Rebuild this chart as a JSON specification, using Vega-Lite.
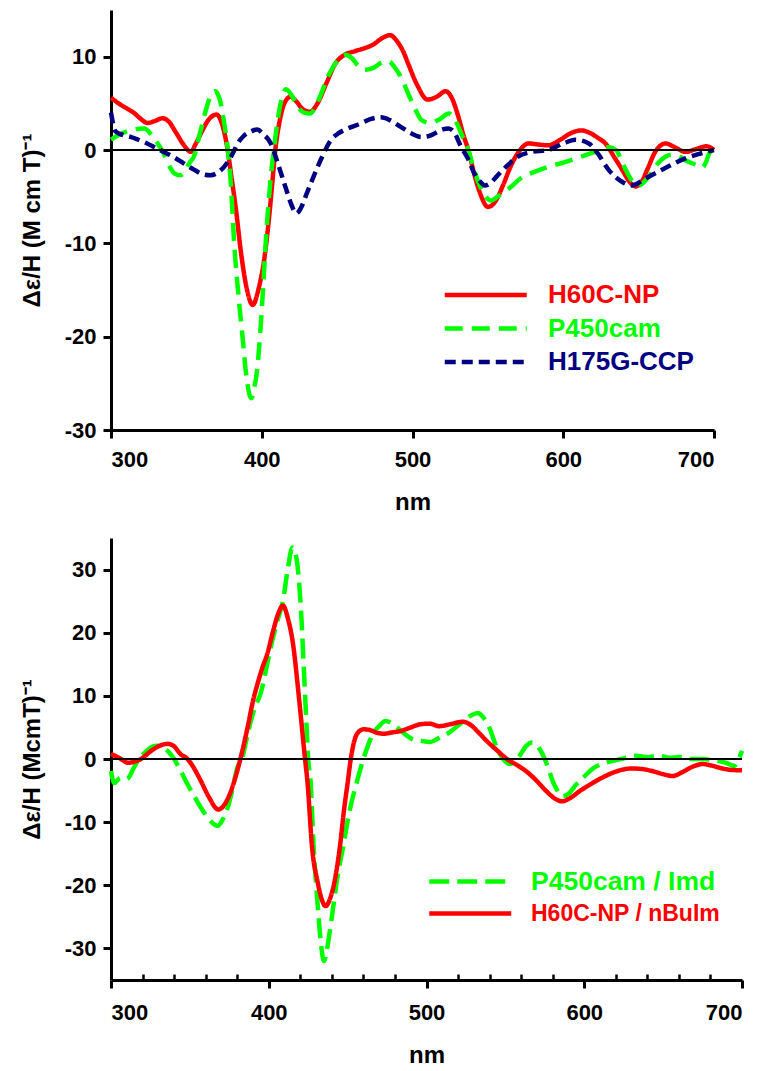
{
  "$schema": "https://vega.github.io/schema/vega-lite/v6.json",
  "background": "white",
  "padding": {"left": 20, "top": 10, "right": 5, "bottom": 5},
  "spacing": 24,
  "resolve": {"scale": {"color": "independent", "strokeDash": "independent"}, "legend": {"color": "independent", "strokeDash": "independent"}},
  "config": {
    "view": {"stroke": null},
    "font": "Liberation Sans",
    "axis": {
      "grid": false,
      "domainColor": "black",
      "domainWidth": 3,
      "tickColor": "black",
      "tickWidth": 3,
      "tickSize": 8,
      "labelFont": "Liberation Sans",
      "labelFontWeight": "bold",
      "labelFontSize": 22,
      "labelColor": "black",
      "titleFont": "Liberation Sans",
      "titleFontWeight": "bold",
      "titleColor": "black"
    },
    "legend": {
      "orient": "none",
      "title": null,
      "labelFont": "Liberation Sans",
      "labelFontWeight": "bold",
      "labelLimit": 400,
      "symbolType": "M-1,0H7",
      "symbolSize": 420,
      "symbolStrokeWidth": 4.5
    }
  },
  "datasets": {
    "top": [
      {"s":"H60C-NP","nm":300,"v":5.6},{"s":"H60C-NP","nm":305,"v":5.0},{"s":"H60C-NP","nm":310,"v":4.5},{"s":"H60C-NP","nm":315,"v":4.0},{"s":"H60C-NP","nm":320,"v":3.3},{"s":"H60C-NP","nm":324,"v":2.9},{"s":"H60C-NP","nm":329,"v":3.1},{"s":"H60C-NP","nm":334,"v":3.4},{"s":"H60C-NP","nm":338,"v":3.1},{"s":"H60C-NP","nm":343,"v":1.9},{"s":"H60C-NP","nm":348,"v":0.6},{"s":"H60C-NP","nm":353,"v":-0.2},{"s":"H60C-NP","nm":356,"v":0.6},{"s":"H60C-NP","nm":360,"v":1.9},{"s":"H60C-NP","nm":365,"v":3.3},{"s":"H60C-NP","nm":370,"v":3.8},{"s":"H60C-NP","nm":374,"v":2.6},{"s":"H60C-NP","nm":377,"v":0.4},{"s":"H60C-NP","nm":380,"v":-3.0},{"s":"H60C-NP","nm":383,"v":-6.5},{"s":"H60C-NP","nm":386,"v":-10.7},{"s":"H60C-NP","nm":390,"v":-14.8},{"s":"H60C-NP","nm":394,"v":-16.6},{"s":"H60C-NP","nm":398,"v":-14.8},{"s":"H60C-NP","nm":402,"v":-11.3},{"s":"H60C-NP","nm":405,"v":-7.0},{"s":"H60C-NP","nm":407,"v":-3.5},{"s":"H60C-NP","nm":409,"v":0.0},{"s":"H60C-NP","nm":412,"v":3.2},{"s":"H60C-NP","nm":415,"v":5.0},{"s":"H60C-NP","nm":419,"v":5.7},{"s":"H60C-NP","nm":423,"v":5.2},{"s":"H60C-NP","nm":427,"v":4.4},{"s":"H60C-NP","nm":432,"v":4.1},{"s":"H60C-NP","nm":437,"v":5.0},{"s":"H60C-NP","nm":443,"v":7.2},{"s":"H60C-NP","nm":449,"v":9.3},{"s":"H60C-NP","nm":455,"v":10.2},{"s":"H60C-NP","nm":462,"v":10.6},{"s":"H60C-NP","nm":468,"v":10.9},{"s":"H60C-NP","nm":474,"v":11.3},{"s":"H60C-NP","nm":480,"v":12.0},{"s":"H60C-NP","nm":485,"v":12.3},{"s":"H60C-NP","nm":490,"v":11.6},{"s":"H60C-NP","nm":494,"v":10.5},{"s":"H60C-NP","nm":497,"v":9.3},{"s":"H60C-NP","nm":503,"v":7.0},{"s":"H60C-NP","nm":510,"v":5.4},{"s":"H60C-NP","nm":516,"v":5.7},{"s":"H60C-NP","nm":522,"v":6.3},{"s":"H60C-NP","nm":526,"v":5.6},{"s":"H60C-NP","nm":530,"v":3.8},{"s":"H60C-NP","nm":534,"v":1.5},{"s":"H60C-NP","nm":537,"v":0.0},{"s":"H60C-NP","nm":541,"v":-2.6},{"s":"H60C-NP","nm":545,"v":-4.7},{"s":"H60C-NP","nm":550,"v":-6.1},{"s":"H60C-NP","nm":555,"v":-5.5},{"s":"H60C-NP","nm":560,"v":-3.8},{"s":"H60C-NP","nm":565,"v":-1.8},{"s":"H60C-NP","nm":570,"v":-0.3},{"s":"H60C-NP","nm":577,"v":0.7},{"s":"H60C-NP","nm":583,"v":0.6},{"s":"H60C-NP","nm":590,"v":0.5},{"s":"H60C-NP","nm":598,"v":1.1},{"s":"H60C-NP","nm":605,"v":1.8},{"s":"H60C-NP","nm":612,"v":2.1},{"s":"H60C-NP","nm":618,"v":1.8},{"s":"H60C-NP","nm":623,"v":1.3},{"s":"H60C-NP","nm":628,"v":0.7},{"s":"H60C-NP","nm":634,"v":-0.8},{"s":"H60C-NP","nm":639,"v":-2.1},{"s":"H60C-NP","nm":644,"v":-3.4},{"s":"H60C-NP","nm":648,"v":-3.9},{"s":"H60C-NP","nm":652,"v":-3.4},{"s":"H60C-NP","nm":656,"v":-2.0},{"s":"H60C-NP","nm":661,"v":-0.2},{"s":"H60C-NP","nm":668,"v":0.7},{"s":"H60C-NP","nm":674,"v":0.3},{"s":"H60C-NP","nm":681,"v":-0.2},{"s":"H60C-NP","nm":688,"v":0.1},{"s":"H60C-NP","nm":695,"v":0.4},{"s":"H60C-NP","nm":700,"v":0.0},
      {"s":"P450cam","nm":300,"v":1.1},{"s":"P450cam","nm":305,"v":1.6},{"s":"P450cam","nm":313,"v":2.1},{"s":"P450cam","nm":322,"v":2.3},{"s":"P450cam","nm":327,"v":1.6},{"s":"P450cam","nm":331,"v":0.7},{"s":"P450cam","nm":335,"v":-0.4},{"s":"P450cam","nm":339,"v":-1.8},{"s":"P450cam","nm":342,"v":-2.5},{"s":"P450cam","nm":346,"v":-2.7},{"s":"P450cam","nm":349,"v":-2.3},{"s":"P450cam","nm":352,"v":-1.4},{"s":"P450cam","nm":355,"v":-0.7},{"s":"P450cam","nm":359,"v":1.8},{"s":"P450cam","nm":363,"v":4.3},{"s":"P450cam","nm":366,"v":5.8},{"s":"P450cam","nm":369,"v":6.3},{"s":"P450cam","nm":372,"v":5.5},{"s":"P450cam","nm":375,"v":3.0},{"s":"P450cam","nm":377,"v":0.7},{"s":"P450cam","nm":379,"v":-2.5},{"s":"P450cam","nm":382,"v":-10.7},{"s":"P450cam","nm":384.5,"v":-15.5},{"s":"P450cam","nm":387,"v":-19.6},{"s":"P450cam","nm":390,"v":-24.5},{"s":"P450cam","nm":393,"v":-26.6},{"s":"P450cam","nm":395,"v":-25.5},{"s":"P450cam","nm":397,"v":-23.5},{"s":"P450cam","nm":399,"v":-19.6},{"s":"P450cam","nm":401,"v":-14.5},{"s":"P450cam","nm":403,"v":-9.0},{"s":"P450cam","nm":406,"v":-2.9},{"s":"P450cam","nm":408,"v":0.0},{"s":"P450cam","nm":412,"v":4.6},{"s":"P450cam","nm":416,"v":6.5},{"s":"P450cam","nm":420,"v":5.8},{"s":"P450cam","nm":424,"v":4.6},{"s":"P450cam","nm":428,"v":4.0},{"s":"P450cam","nm":432,"v":3.9},{"s":"P450cam","nm":438,"v":5.5},{"s":"P450cam","nm":444,"v":7.9},{"s":"P450cam","nm":450,"v":9.5},{"s":"P450cam","nm":455,"v":10.2},{"s":"P450cam","nm":460,"v":9.8},{"s":"P450cam","nm":464,"v":9.0},{"s":"P450cam","nm":468,"v":8.6},{"s":"P450cam","nm":474,"v":8.8},{"s":"P450cam","nm":480,"v":9.4},{"s":"P450cam","nm":484,"v":9.5},{"s":"P450cam","nm":488,"v":8.9},{"s":"P450cam","nm":493,"v":7.6},{"s":"P450cam","nm":497,"v":6.1},{"s":"P450cam","nm":502,"v":4.3},{"s":"P450cam","nm":506,"v":3.2},{"s":"P450cam","nm":512,"v":2.9},{"s":"P450cam","nm":518,"v":3.3},{"s":"P450cam","nm":524,"v":3.9},{"s":"P450cam","nm":529,"v":3.0},{"s":"P450cam","nm":533,"v":1.5},{"s":"P450cam","nm":537,"v":0.0},{"s":"P450cam","nm":541,"v":-2.2},{"s":"P450cam","nm":546,"v":-4.3},{"s":"P450cam","nm":552,"v":-5.4},{"s":"P450cam","nm":558,"v":-4.8},{"s":"P450cam","nm":565,"v":-4.0},{"s":"P450cam","nm":572,"v":-3.0},{"s":"P450cam","nm":580,"v":-2.4},{"s":"P450cam","nm":590,"v":-1.8},{"s":"P450cam","nm":601,"v":-1.3},{"s":"P450cam","nm":612,"v":-0.7},{"s":"P450cam","nm":623,"v":-0.1},{"s":"P450cam","nm":630,"v":0.3},{"s":"P450cam","nm":635,"v":0.0},{"s":"P450cam","nm":639,"v":-1.3},{"s":"P450cam","nm":643,"v":-2.6},{"s":"P450cam","nm":646,"v":-3.4},{"s":"P450cam","nm":650,"v":-3.8},{"s":"P450cam","nm":656,"v":-3.0},{"s":"P450cam","nm":663,"v":-1.4},{"s":"P450cam","nm":668,"v":-0.7},{"s":"P450cam","nm":672,"v":-0.5},{"s":"P450cam","nm":677,"v":-0.7},{"s":"P450cam","nm":681,"v":-1.1},{"s":"P450cam","nm":688,"v":-1.6},{"s":"P450cam","nm":692,"v":-1.9},{"s":"P450cam","nm":695,"v":-1.2},{"s":"P450cam","nm":697,"v":-0.3},{"s":"P450cam","nm":700,"v":0.0},
      {"s":"H175G-CCP","nm":300,"v":4.0},{"s":"H175G-CCP","nm":303,"v":2.0},{"s":"H175G-CCP","nm":308,"v":1.6},{"s":"H175G-CCP","nm":313,"v":1.4},{"s":"H175G-CCP","nm":318,"v":1.1},{"s":"H175G-CCP","nm":324,"v":0.7},{"s":"H175G-CCP","nm":330,"v":0.2},{"s":"H175G-CCP","nm":335,"v":-0.2},{"s":"H175G-CCP","nm":341,"v":-0.7},{"s":"H175G-CCP","nm":348,"v":-1.4},{"s":"H175G-CCP","nm":355,"v":-2.1},{"s":"H175G-CCP","nm":361,"v":-2.6},{"s":"H175G-CCP","nm":366,"v":-2.7},{"s":"H175G-CCP","nm":371,"v":-2.4},{"s":"H175G-CCP","nm":377,"v":-1.4},{"s":"H175G-CCP","nm":381,"v":-0.3},{"s":"H175G-CCP","nm":384,"v":0.7},{"s":"H175G-CCP","nm":388,"v":1.5},{"s":"H175G-CCP","nm":393,"v":2.0},{"s":"H175G-CCP","nm":397,"v":2.2},{"s":"H175G-CCP","nm":401,"v":1.7},{"s":"H175G-CCP","nm":406,"v":0.7},{"s":"H175G-CCP","nm":410,"v":-1.1},{"s":"H175G-CCP","nm":413,"v":-2.6},{"s":"H175G-CCP","nm":417,"v":-4.6},{"s":"H175G-CCP","nm":420,"v":-6.0},{"s":"H175G-CCP","nm":423,"v":-6.8},{"s":"H175G-CCP","nm":426,"v":-6.2},{"s":"H175G-CCP","nm":430,"v":-4.6},{"s":"H175G-CCP","nm":435,"v":-2.6},{"s":"H175G-CCP","nm":439,"v":-1.1},{"s":"H175G-CCP","nm":446,"v":1.1},{"s":"H175G-CCP","nm":451,"v":1.8},{"s":"H175G-CCP","nm":457,"v":2.3},{"s":"H175G-CCP","nm":465,"v":2.8},{"s":"H175G-CCP","nm":472,"v":3.3},{"s":"H175G-CCP","nm":479,"v":3.5},{"s":"H175G-CCP","nm":485,"v":3.2},{"s":"H175G-CCP","nm":492,"v":2.5},{"s":"H175G-CCP","nm":499,"v":1.8},{"s":"H175G-CCP","nm":506,"v":1.4},{"s":"H175G-CCP","nm":511,"v":1.5},{"s":"H175G-CCP","nm":515,"v":1.8},{"s":"H175G-CCP","nm":520,"v":2.2},{"s":"H175G-CCP","nm":524,"v":2.3},{"s":"H175G-CCP","nm":528,"v":1.8},{"s":"H175G-CCP","nm":532,"v":0.4},{"s":"H175G-CCP","nm":537,"v":-1.0},{"s":"H175G-CCP","nm":541,"v":-2.5},{"s":"H175G-CCP","nm":545,"v":-3.4},{"s":"H175G-CCP","nm":548,"v":-3.8},{"s":"H175G-CCP","nm":552,"v":-3.5},{"s":"H175G-CCP","nm":556,"v":-2.8},{"s":"H175G-CCP","nm":562,"v":-1.8},{"s":"H175G-CCP","nm":570,"v":-0.7},{"s":"H175G-CCP","nm":579,"v":-0.2},{"s":"H175G-CCP","nm":590,"v":0.0},{"s":"H175G-CCP","nm":600,"v":0.7},{"s":"H175G-CCP","nm":608,"v":1.1},{"s":"H175G-CCP","nm":617,"v":0.7},{"s":"H175G-CCP","nm":623,"v":-0.4},{"s":"H175G-CCP","nm":630,"v":-2.1},{"s":"H175G-CCP","nm":639,"v":-3.4},{"s":"H175G-CCP","nm":645,"v":-3.8},{"s":"H175G-CCP","nm":655,"v":-3.0},{"s":"H175G-CCP","nm":668,"v":-1.9},{"s":"H175G-CCP","nm":681,"v":-0.9},{"s":"H175G-CCP","nm":695,"v":-0.2},{"s":"H175G-CCP","nm":700,"v":0.0}
    ],
    "bottom": [
      {"s":"P450cam / Imd","nm":300,"v":-1.9},{"s":"P450cam / Imd","nm":302,"v":-3.8},{"s":"P450cam / Imd","nm":306,"v":-3.0},{"s":"P450cam / Imd","nm":309,"v":-3.2},{"s":"P450cam / Imd","nm":311,"v":-3.0},{"s":"P450cam / Imd","nm":314,"v":-1.6},{"s":"P450cam / Imd","nm":317,"v":-0.3},{"s":"P450cam / Imd","nm":321,"v":0.9},{"s":"P450cam / Imd","nm":325,"v":1.8},{"s":"P450cam / Imd","nm":329,"v":2.1},{"s":"P450cam / Imd","nm":333,"v":1.8},{"s":"P450cam / Imd","nm":337,"v":1.0},{"s":"P450cam / Imd","nm":340,"v":0.0},{"s":"P450cam / Imd","nm":344,"v":-1.8},{"s":"P450cam / Imd","nm":348.5,"v":-4.0},{"s":"P450cam / Imd","nm":353,"v":-6.0},{"s":"P450cam / Imd","nm":357,"v":-7.7},{"s":"P450cam / Imd","nm":362,"v":-9.5},{"s":"P450cam / Imd","nm":367.5,"v":-10.6},{"s":"P450cam / Imd","nm":371,"v":-9.5},{"s":"P450cam / Imd","nm":374,"v":-7.7},{"s":"P450cam / Imd","nm":377,"v":-4.8},{"s":"P450cam / Imd","nm":380,"v":-1.4},{"s":"P450cam / Imd","nm":383,"v":0.0},{"s":"P450cam / Imd","nm":387,"v":4.4},{"s":"P450cam / Imd","nm":391,"v":8.0},{"s":"P450cam / Imd","nm":395,"v":10.5},{"s":"P450cam / Imd","nm":399,"v":15.0},{"s":"P450cam / Imd","nm":402,"v":18.5},{"s":"P450cam / Imd","nm":405.5,"v":21.9},{"s":"P450cam / Imd","nm":409,"v":25.0},{"s":"P450cam / Imd","nm":412,"v":30.0},{"s":"P450cam / Imd","nm":415,"v":33.5},{"s":"P450cam / Imd","nm":417,"v":32.5},{"s":"P450cam / Imd","nm":419,"v":28.7},{"s":"P450cam / Imd","nm":421,"v":21.0},{"s":"P450cam / Imd","nm":422,"v":15.6},{"s":"P450cam / Imd","nm":424,"v":5.0},{"s":"P450cam / Imd","nm":425,"v":0.0},{"s":"P450cam / Imd","nm":426.5,"v":-3.5},{"s":"P450cam / Imd","nm":428.5,"v":-14.1},{"s":"P450cam / Imd","nm":431,"v":-23.0},{"s":"P450cam / Imd","nm":433,"v":-29.0},{"s":"P450cam / Imd","nm":435,"v":-32.0},{"s":"P450cam / Imd","nm":437,"v":-30.0},{"s":"P450cam / Imd","nm":440,"v":-25.0},{"s":"P450cam / Imd","nm":444,"v":-18.0},{"s":"P450cam / Imd","nm":447,"v":-14.1},{"s":"P450cam / Imd","nm":451,"v":-8.5},{"s":"P450cam / Imd","nm":456,"v":-3.5},{"s":"P450cam / Imd","nm":460,"v":0.0},{"s":"P450cam / Imd","nm":463,"v":2.2},{"s":"P450cam / Imd","nm":466,"v":4.0},{"s":"P450cam / Imd","nm":470,"v":5.2},{"s":"P450cam / Imd","nm":474,"v":6.0},{"s":"P450cam / Imd","nm":479,"v":5.5},{"s":"P450cam / Imd","nm":485,"v":4.2},{"s":"P450cam / Imd","nm":491.5,"v":3.1},{"s":"P450cam / Imd","nm":496,"v":2.9},{"s":"P450cam / Imd","nm":502,"v":2.7},{"s":"P450cam / Imd","nm":508.5,"v":3.4},{"s":"P450cam / Imd","nm":515,"v":4.3},{"s":"P450cam / Imd","nm":521,"v":5.5},{"s":"P450cam / Imd","nm":527,"v":6.7},{"s":"P450cam / Imd","nm":532.5,"v":7.3},{"s":"P450cam / Imd","nm":536,"v":6.6},{"s":"P450cam / Imd","nm":540,"v":4.9},{"s":"P450cam / Imd","nm":543,"v":2.8},{"s":"P450cam / Imd","nm":546.5,"v":0.8},{"s":"P450cam / Imd","nm":550,"v":-0.4},{"s":"P450cam / Imd","nm":553,"v":-0.8},{"s":"P450cam / Imd","nm":556,"v":-0.3},{"s":"P450cam / Imd","nm":559,"v":0.5},{"s":"P450cam / Imd","nm":563,"v":2.0},{"s":"P450cam / Imd","nm":567,"v":2.6},{"s":"P450cam / Imd","nm":570.5,"v":2.0},{"s":"P450cam / Imd","nm":573.5,"v":0.8},{"s":"P450cam / Imd","nm":577,"v":-1.3},{"s":"P450cam / Imd","nm":580,"v":-3.5},{"s":"P450cam / Imd","nm":583,"v":-5.0},{"s":"P450cam / Imd","nm":586,"v":-5.9},{"s":"P450cam / Imd","nm":590,"v":-5.5},{"s":"P450cam / Imd","nm":595,"v":-4.0},{"s":"P450cam / Imd","nm":600,"v":-2.8},{"s":"P450cam / Imd","nm":605,"v":-1.6},{"s":"P450cam / Imd","nm":611,"v":-0.8},{"s":"P450cam / Imd","nm":618,"v":-0.3},{"s":"P450cam / Imd","nm":625,"v":0.1},{"s":"P450cam / Imd","nm":633,"v":0.5},{"s":"P450cam / Imd","nm":640,"v":0.3},{"s":"P450cam / Imd","nm":647,"v":0.5},{"s":"P450cam / Imd","nm":654,"v":0.2},{"s":"P450cam / Imd","nm":661,"v":0.3},{"s":"P450cam / Imd","nm":668,"v":0.0},{"s":"P450cam / Imd","nm":675,"v":0.0},{"s":"P450cam / Imd","nm":682,"v":-0.2},{"s":"P450cam / Imd","nm":690,"v":-0.6},{"s":"P450cam / Imd","nm":695,"v":-1.1},{"s":"P450cam / Imd","nm":698,"v":0.0},{"s":"P450cam / Imd","nm":700,"v":1.3},
      {"s":"H60C-NP / nBuIm","nm":300,"v":0.8},{"s":"H60C-NP / nBuIm","nm":305,"v":0.2},{"s":"H60C-NP / nBuIm","nm":311,"v":-0.6},{"s":"H60C-NP / nBuIm","nm":315,"v":-0.4},{"s":"H60C-NP / nBuIm","nm":319,"v":0.0},{"s":"H60C-NP / nBuIm","nm":325,"v":1.2},{"s":"H60C-NP / nBuIm","nm":330,"v":2.0},{"s":"H60C-NP / nBuIm","nm":336,"v":2.4},{"s":"H60C-NP / nBuIm","nm":340,"v":2.0},{"s":"H60C-NP / nBuIm","nm":344,"v":0.8},{"s":"H60C-NP / nBuIm","nm":348.5,"v":0.0},{"s":"H60C-NP / nBuIm","nm":352,"v":-1.2},{"s":"H60C-NP / nBuIm","nm":357,"v":-3.5},{"s":"H60C-NP / nBuIm","nm":362,"v":-6.0},{"s":"H60C-NP / nBuIm","nm":368,"v":-8.0},{"s":"H60C-NP / nBuIm","nm":372,"v":-7.2},{"s":"H60C-NP / nBuIm","nm":376,"v":-5.1},{"s":"H60C-NP / nBuIm","nm":379,"v":-2.8},{"s":"H60C-NP / nBuIm","nm":382,"v":0.0},{"s":"H60C-NP / nBuIm","nm":387,"v":5.5},{"s":"H60C-NP / nBuIm","nm":390,"v":9.2},{"s":"H60C-NP / nBuIm","nm":393,"v":12.0},{"s":"H60C-NP / nBuIm","nm":396,"v":14.5},{"s":"H60C-NP / nBuIm","nm":399,"v":16.6},{"s":"H60C-NP / nBuIm","nm":403,"v":20.5},{"s":"H60C-NP / nBuIm","nm":406,"v":23.0},{"s":"H60C-NP / nBuIm","nm":409,"v":24.3},{"s":"H60C-NP / nBuIm","nm":412,"v":22.4},{"s":"H60C-NP / nBuIm","nm":416,"v":17.1},{"s":"H60C-NP / nBuIm","nm":418,"v":12.5},{"s":"H60C-NP / nBuIm","nm":420,"v":7.6},{"s":"H60C-NP / nBuIm","nm":423,"v":0.0},{"s":"H60C-NP / nBuIm","nm":424.5,"v":-3.5},{"s":"H60C-NP / nBuIm","nm":427.5,"v":-14.1},{"s":"H60C-NP / nBuIm","nm":431,"v":-19.5},{"s":"H60C-NP / nBuIm","nm":434,"v":-22.5},{"s":"H60C-NP / nBuIm","nm":436,"v":-23.3},{"s":"H60C-NP / nBuIm","nm":439,"v":-22.0},{"s":"H60C-NP / nBuIm","nm":442,"v":-19.0},{"s":"H60C-NP / nBuIm","nm":445,"v":-14.1},{"s":"H60C-NP / nBuIm","nm":448,"v":-7.5},{"s":"H60C-NP / nBuIm","nm":450,"v":-3.8},{"s":"H60C-NP / nBuIm","nm":452,"v":0.0},{"s":"H60C-NP / nBuIm","nm":456,"v":4.0},{"s":"H60C-NP / nBuIm","nm":460,"v":4.7},{"s":"H60C-NP / nBuIm","nm":464,"v":4.6},{"s":"H60C-NP / nBuIm","nm":468,"v":4.2},{"s":"H60C-NP / nBuIm","nm":473,"v":4.0},{"s":"H60C-NP / nBuIm","nm":478,"v":4.2},{"s":"H60C-NP / nBuIm","nm":483,"v":4.4},{"s":"H60C-NP / nBuIm","nm":490,"v":5.0},{"s":"H60C-NP / nBuIm","nm":496,"v":5.5},{"s":"H60C-NP / nBuIm","nm":502,"v":5.6},{"s":"H60C-NP / nBuIm","nm":508,"v":5.2},{"s":"H60C-NP / nBuIm","nm":515,"v":5.5},{"s":"H60C-NP / nBuIm","nm":523,"v":5.9},{"s":"H60C-NP / nBuIm","nm":528,"v":5.4},{"s":"H60C-NP / nBuIm","nm":533,"v":4.2},{"s":"H60C-NP / nBuIm","nm":538,"v":2.9},{"s":"H60C-NP / nBuIm","nm":545,"v":1.3},{"s":"H60C-NP / nBuIm","nm":551,"v":0.0},{"s":"H60C-NP / nBuIm","nm":557,"v":-0.9},{"s":"H60C-NP / nBuIm","nm":563,"v":-1.9},{"s":"H60C-NP / nBuIm","nm":570,"v":-3.5},{"s":"H60C-NP / nBuIm","nm":576,"v":-5.1},{"s":"H60C-NP / nBuIm","nm":581,"v":-6.2},{"s":"H60C-NP / nBuIm","nm":586,"v":-6.7},{"s":"H60C-NP / nBuIm","nm":591,"v":-6.2},{"s":"H60C-NP / nBuIm","nm":597,"v":-5.1},{"s":"H60C-NP / nBuIm","nm":604,"v":-4.0},{"s":"H60C-NP / nBuIm","nm":611,"v":-3.0},{"s":"H60C-NP / nBuIm","nm":620,"v":-2.0},{"s":"H60C-NP / nBuIm","nm":630,"v":-1.5},{"s":"H60C-NP / nBuIm","nm":637,"v":-1.6},{"s":"H60C-NP / nBuIm","nm":643,"v":-1.9},{"s":"H60C-NP / nBuIm","nm":650,"v":-2.4},{"s":"H60C-NP / nBuIm","nm":656,"v":-2.7},{"s":"H60C-NP / nBuIm","nm":662,"v":-2.1},{"s":"H60C-NP / nBuIm","nm":668,"v":-1.3},{"s":"H60C-NP / nBuIm","nm":675,"v":-0.8},{"s":"H60C-NP / nBuIm","nm":680,"v":-1.0},{"s":"H60C-NP / nBuIm","nm":686,"v":-1.4},{"s":"H60C-NP / nBuIm","nm":692,"v":-1.7},{"s":"H60C-NP / nBuIm","nm":700,"v":-1.8}
    ],
    "zero": [{"v": 0}]
  },
  "vconcat": [
    {
      "width": 603,
      "height": 420,
      "layer": [
        {
          "data": {"name": "top"},
          "mark": {"type": "line", "interpolate": "monotone", "strokeWidth": 4.5},
          "encoding": {
            "x": {"field": "nm", "type": "quantitative", "scale": {"domain": [300, 700], "nice": false},
                  "axis": {"values": [300, 400, 500, 600, 700], "title": "nm", "titleFontSize": 24, "labelPadding": 11, "titlePadding": 20}},
            "y": {"field": "v", "type": "quantitative", "scale": {"domain": [-30, 15], "nice": false},
                  "axis": {"values": [-30, -20, -10, 0, 10], "labelExpr": "'' + datum.value", "title": "Δε/H (M cm T)⁻¹", "titleFontSize": 24, "labelPadding": 7, "titlePadding": 20}},
            "color": {"field": "s", "type": "nominal",
                      "scale": {"domain": ["H60C-NP", "P450cam", "H175G-CCP"], "range": ["#ff0000", "#00ff00", "#000080"]},
                      "legend": {"legendX": 331, "legendY": 272, "labelFontSize": 26, "rowPadding": 7.5, "labelOffset": 80,
                                 "labelColor": {"expr": "datum.value == 'H60C-NP' ? '#ff0000' : datum.value == 'P450cam' ? '#00ff00' : '#000080'"}}},
            "strokeDash": {"field": "s", "type": "nominal",
                      "scale": {"domain": ["H60C-NP", "P450cam", "H175G-CCP"], "range": [[1, 0], [18, 9], [11, 6]]},
                      "legend": {"legendX": 331, "legendY": 272, "labelFontSize": 26, "rowPadding": 7.5, "labelOffset": 80,
                                 "labelColor": {"expr": "datum.value == 'H60C-NP' ? '#ff0000' : datum.value == 'P450cam' ? '#00ff00' : '#000080'"}}}
          }
        },
        {
          "data": {"name": "zero"},
          "mark": {"type": "rule", "color": "black", "strokeWidth": 2},
          "encoding": {"y": {"field": "v", "type": "quantitative",
                             "axis": {"values": [-30, -20, -10, 0, 10], "labelExpr": "'' + datum.value", "title": "Δε/H (M cm T)⁻¹", "titleFontSize": 24, "labelPadding": 7, "titlePadding": 20}}}
        }
      ]
    },
    {
      "width": 631,
      "height": 442,
      "resolve": {"axis": {"x": "independent"}},
      "layer": [
        {
          "data": {"name": "bottom"},
          "mark": {"type": "line", "interpolate": "monotone", "strokeWidth": 4.5},
          "encoding": {
            "x": {"field": "nm", "type": "quantitative", "scale": {"domain": [300, 700], "nice": false},
                  "axis": {"orient": "bottom", "values": [300, 400, 500, 600, 700], "title": "nm", "titleFontSize": 24, "labelPadding": 14, "titlePadding": 20}},
            "y": {"field": "v", "type": "quantitative", "scale": {"domain": [-35, 35], "nice": false},
                  "axis": {"values": [-30, -20, -10, 0, 10, 20, 30], "labelExpr": "'' + datum.value", "title": "Δε/H (McmT)⁻¹", "titleFontSize": 24, "labelPadding": 7, "titlePadding": 20}},
            "color": {"field": "s", "type": "nominal",
                      "scale": {"domain": ["P450cam / Imd", "H60C-NP / nBuIm"], "range": ["#00ff00", "#ff0000"]},
                      "legend": {"legendX": 316, "legendY": 331, "labelFontSize": {"expr": "datum.value == 'P450cam / Imd' ? 26.5 : 23"}, "rowPadding": 6, "labelOffset": 79,
                                 "labelColor": {"expr": "datum.value == 'P450cam / Imd' ? '#00ff00' : '#ff0000'"}}},
            "strokeDash": {"field": "s", "type": "nominal",
                      "scale": {"domain": ["P450cam / Imd", "H60C-NP / nBuIm"], "range": [[20, 8], [1, 0]]},
                      "legend": {"legendX": 316, "legendY": 331, "labelFontSize": {"expr": "datum.value == 'P450cam / Imd' ? 26.5 : 23"}, "rowPadding": 6, "labelOffset": 79,
                                 "labelColor": {"expr": "datum.value == 'P450cam / Imd' ? '#00ff00' : '#ff0000'"}}}
          }
        },
        {
          "data": {"name": "zero"},
          "mark": {"type": "rule", "color": "black", "strokeWidth": 2},
          "encoding": {"y": {"field": "v", "type": "quantitative",
                             "axis": {"values": [-30, -20, -10, 0, 10, 20, 30], "labelExpr": "'' + datum.value", "title": "Δε/H (McmT)⁻¹", "titleFontSize": 24, "labelPadding": 7, "titlePadding": 20}}}
        },
        {
          "data": {"name": "bottom"},
          "mark": {"type": "point", "opacity": 0},
          "encoding": {
            "x": {"field": "nm", "type": "quantitative", "scale": {"domain": [300, 700], "nice": false},
                  "axis": {"orient": "bottom", "values": [320, 340, 360, 380, 420, 440, 460, 480, 520, 540, 560, 580, 620, 640, 660, 680], "labels": false, "domain": false, "tickSize": -6, "tickWidth": 2.5, "title": null}},
            "y": {"field": "v", "type": "quantitative",
                  "axis": {"values": [-30, -20, -10, 0, 10, 20, 30], "labelExpr": "'' + datum.value", "title": "Δε/H (McmT)⁻¹", "titleFontSize": 24, "labelPadding": 7, "titlePadding": 20}}
          }
        }
      ]
    }
  ]
}
